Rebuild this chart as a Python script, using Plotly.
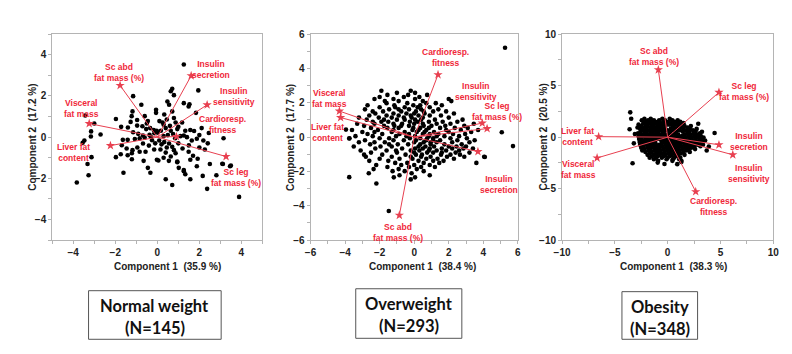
import plotly.graph_objects as go

# ---------------- data ----------------
VARS = ["Sc abd<br>fat mass (%)", "Insulin<br>secretion", "Insulin<br>sensitivity",
        "Cardioresp.<br>fitness", "Sc leg<br>fat mass (%)", "Visceral<br>fat mass",
        "Liver fat<br>content"]

# loadings (arrow tips) per group, same order as VARS
NW_LX = [-1.77, 1.61, 2.37, 0.91, 3.27, -3.24, -2.23]
NW_LY = [2.51, 2.98, 1.57, 0.03, -0.94, 0.66, -0.41]
OW_LX = [-0.86, 3.69, 3.94, 1.38, 4.22, -4.33, -4.26]
OW_LY = [-4.55, -0.84, 0.82, 3.64, 0.50, 1.52, 1.14]
OB_LX = [-0.88, 4.86, 6.17, 2.66, 4.86, -6.68, -6.53]
OB_LY = [6.54, -0.74, -1.71, -5.29, 4.35, -2.02, 0.05]

GROUPS = ["Normal weight", "Overweight", "Obesity"]
GROUP_N = [145, 293, 348]
PC1_PCT = [35.9, 38.4, 38.3]
PC2_PCT = [17.2, 17.7, 20.5]

# scores, Normal weight
NW_PTS = [
    (-1.15, 1.99), (-0.76, 1.57), (-0.06, 1.33), (-1.18, 1.25), (-1.22, 1.02), (-1.27, 0.74),
    (-0.96, 0.83), (-1.97, 0.88), (-1.72, 0.50), (-1.40, 0.47), (-0.96, 0.56), (-0.71, 0.53),
    (-0.50, 0.66), (-0.53, 0.39), (-0.34, 0.44), (-0.17, 0.35), (-0.03, 0.31), (-3.00, 0.66),
    (-3.43, 1.05), (-3.15, 0.28), (-2.70, 0.13), (-3.16, 0.03), (-3.47, -0.16), (-3.55, -0.27),
    (-1.64, -0.13), (-1.41, -0.13), (-1.07, -0.09), (-0.84, -0.06), (-0.60, -0.03), (-0.37, 0.11),
    (-0.14, 0.19), (-1.69, -0.39), (-1.46, -0.55), (-1.18, -0.63), (-0.95, -0.50), (-0.68, -0.31),
    (-0.40, -0.41), (-1.21, -0.78), (-0.84, -0.71), (-0.56, -0.71), (-1.97, -0.97), (-1.74, -0.83),
    (-1.41, -0.88), (-3.13, -0.97), (-3.32, -1.30), (-1.21, -1.07), (-0.45, -1.49), (-0.33, -1.73),
    (-1.61, -1.73), (-3.27, -1.85), (-3.83, -2.20), (-0.91, 0.16), (-0.68, 0.08), (-1.15, 0.24),
    (-0.60, 1.02), (-0.45, 0.78), (-0.06, 1.18), (-0.25, -0.15), (-0.10, -0.30), (-0.30, 0.00),
    (-0.15, -0.60), (-0.65, -1.15), (-0.02, -1.10), (0.05, -1.13),
    (1.26, 3.53), (1.95, 2.27), (0.79, 2.04), (0.71, 2.35), (0.64, 2.23), (1.53, 1.60),
    (1.49, 1.49), (1.26, 1.65), (1.84, 1.18), (2.11, 0.44), (3.15, -0.05), (3.46, -1.41),
    (3.12, -1.30), (2.81, -1.85), (2.37, -2.51), (3.89, -2.90), (2.16, -1.88), (1.57, -1.10),
    (1.92, -1.05), (2.26, -0.60), (2.19, -0.16), (1.88, -0.08), (1.64, -0.16), (1.41, 0.00),
    (1.57, 0.35), (1.33, 0.31), (1.26, 0.08), (1.18, 0.71), (0.87, 0.71), (0.71, 1.25),
    (0.48, 1.73), (0.56, 1.57), (0.33, 1.10), (0.45, 0.86), (0.25, 0.71), (0.10, 0.78),
    (0.79, 0.93), (0.95, 0.39), (0.64, 0.31), (0.40, 0.44), (0.17, 0.31), (0.02, 0.22),
    (0.09, -0.16), (0.33, -0.24), (0.56, -0.31), (0.71, -0.47), (0.79, -0.63), (0.87, -0.78),
    (0.64, -0.94), (0.95, -1.18), (1.02, -1.49), (1.26, -1.65), (1.33, -1.80), (1.49, -0.71),
    (1.70, -0.90), (0.40, -2.04), (0.71, -2.32), (1.88, -1.41), (1.57, -2.04), (3.09, -1.29),
    (3.50, -1.38), (0.95, -1.22), (1.26, -1.60), (0.30, 0.05), (0.50, 0.10), (0.75, 0.15),
    (0.20, -0.35), (0.45, -0.50), (1.00, -0.30), (1.10, 0.05), (0.60, 0.55), (0.30, 0.60),
    (1.00, 0.50), (0.85, -0.05), (0.15, -0.60), (0.40, -0.75), (1.20, -0.55), (0.55, -1.15),
    (0.30, -1.00), (1.50, -0.40), (1.75, 0.30), (2.00, 0.10), (2.40, -0.30), (2.50, -1.30),
    (2.00, -0.50), (2.45, 0.20),
]

# scores, Overweight: rows (y, [x...]), plus outliers
OW_ROWS = [
    (2.70, [-1.9, -0.2]), (2.58, [-1.0, 0.05]), (2.46, [-0.35, -1.55, 0.75]),
    (2.34, [-0.6, 0.3, -2.0]), (2.22, [-2.3, 0.05, 2.0, -1.2]), (2.10, [-0.9, 0.5, 2.15, -1.7]),
    (1.98, [-1.6, -0.4, 0.7, 1.25]), (1.86, [-2.7, -0.05, 1.6, -1.15, 0.35]),
    (1.74, [-2.0, -1.1, 0.2, 0.9, -0.55]), (1.62, [-2.85, -1.45, -0.3, 0.4, 1.4, -0.9]),
    (1.50, [-1.8, -0.75, 0.1, 1.1, 1.85, -2.4, 0.55]), (1.38, [-2.25, -1.2, -0.45, 0.6, 2.3, 0.0]),
    (1.26, [-2.6, -1.6, -0.9, 0.25, 0.9, 1.55, -0.2]), (1.14, [-3.2, -2.05, -1.3, -0.15, 0.5, 2.0, -0.6]),
    (1.02, [-2.75, -1.0, -0.55, 1.2, 2.8, 0.05, -1.75, 0.4]),
    (0.90, [-1.9, -1.5, 0.2, 0.85, 1.65, 2.5, -2.4, -0.25]),
    (0.78, [-3.3, -2.3, -0.7, 0.0, 1.3, 2.1, 3.45, -1.2, 0.5]),
    (0.66, [-2.9, -1.75, -1.15, -0.3, 0.55, 1.0, 2.9, 1.8, -0.75]),
    (0.54, [-2.5, -1.55, -0.9, 0.35, 1.5, 2.35, 3.1, -0.05, 0.85]),
    (0.42, [-3.6, -2.1, -0.1, 0.7, 1.85, 2.7, 3.7, -1.2, 0.25]),
    (0.30, [-3.0, -1.3, -0.55, 0.15, 1.15, 2.0, 3.3, -2.3, 0.6]),
    (0.18, [-2.7, -1.85, -0.85, 0.5, 1.4, 2.25, 2.95, 0.9, -0.3]),
    (0.06, [-3.4, -2.4, -1.05, 0.05, 0.85, 1.75, 2.6, -0.45, 1.3]),
    (-0.06, [-3.75, -2.0, -1.45, -0.25, 0.35, 1.1, 2.1, 3.05, 0.75]),
    (-0.18, [-2.85, -1.2, -0.6, 0.7, 1.5, 2.5, 3.5, 0.1, 1.1]),
    (-0.30, [-3.2, -2.3, -1.7, 0.0, 0.55, 1.3, 2.2, 3.2, 0.95]),
    (-0.42, [-2.55, -0.95, -0.35, 0.95, 1.75, 2.75, -1.45, 0.35]),
    (-0.54, [-3.5, -1.95, -1.3, 0.25, 1.15, 2.0, 2.45, 3.0, 0.65]),
    (-0.66, [-2.25, -0.7, 0.5, 0.9, 1.6, 2.2, 2.85, 3.4, 0.05]),
    (-0.78, [-3.1, -1.6, -0.2, 0.3, 1.3, 1.85, 2.6, -1.05, 0.85]),
    (-0.90, [-2.5, -1.0, 0.75, 1.1, 2.4, 3.2, 0.0, 1.6]),
    (-1.02, [-1.85, -0.5, 0.1, 1.55, 2.1, 2.65, -2.9, 0.45]),
    (-1.14, [-2.8, -1.3, 0.4, 0.95, 1.9, 2.9, 4.05, -0.2]),
    (-1.26, [-2.0, -0.85, -0.1, 0.7, 1.35, 2.3]),
    (-1.38, [-2.6, -1.5, 0.25, 1.1, 1.7]),
    (-1.50, [-1.1, -0.4, 0.55, 1.45, 3.6]),
    (-1.62, [-2.2, -0.75, 0.0, 0.9]),
    (-1.74, [-1.55, -0.3, 0.4, 1.2]),
    (-1.86, [-0.9, 0.15, -2.35]),
    (-1.98, [-1.25, -0.55, 0.55]),
    (-2.10, [-2.63, -0.15]),
    (-2.22, [-0.85, 0.9]),
    (-2.34, [-1.18, 0.05]),
    (-2.46, [-0.2]),
]
OW_OUT = [(5.26, 5.21), (5.72, -0.52), (5.07, 0.29), (-3.76, -2.33), (-2.19, -2.70),
          (-1.47, -4.30), (-3.95, 0.44), (-3.76, -0.08), (4.09, -1.16)]

# scores, Obesity: rows (y, [x...]), plus outliers
OB_ROWS = [
    (1.78, [-2.2, -1.6, -0.5, 0.2]),
    (1.64, [-2.45, -1.85, -1.3, -0.8, -0.25, 0.45, 0.95]),
    (1.50, [-2.05, -1.5, -0.95, -0.4, 0.1, 0.65, 1.2]),
    (1.36, [-2.3, -1.75, -1.2, -0.7, -0.1, 0.4, 0.9, 1.5]),
    (1.22, [-2.75, -2.1, -1.55, -1.0, -0.45, 0.15, 0.7, 1.25]),
    (1.08, [-2.5, -1.9, -1.35, -0.8, -0.2, 0.45, 1.0, 1.6, 2.2]),
    (0.94, [-2.85, -2.25, -1.65, -1.1, -0.55, 0.6, 1.3, 1.9]),
    (0.80, [-2.6, -2.0, -1.4, -0.85, -0.3, 0.3, 0.9, 1.5, 2.1, 2.75]),
    (0.66, [-2.3, -1.75, -1.15, -0.6, 0.0, 0.55, 1.15, 1.75, 2.4]),
    (0.52, [-2.55, -2.0, -1.45, -0.9, -0.35, 0.25, 0.85, 1.45, 2.05, 2.65, 3.25]),
    (0.38, [-2.8, -2.2, -1.65, -1.1, -0.5, 0.1, 0.7, 1.85, 2.45, 3.05]),
    (0.24, [-2.5, -1.9, -1.3, -0.75, -0.2, 0.4, 1.0, 1.6, 2.2, 2.8]),
    (0.10, [-2.75, -2.15, -1.6, -1.0, -0.45, 0.15, 0.75, 1.35, 1.95, 2.55, 3.15]),
    (-0.04, [-2.45, -1.85, -1.25, -0.7, -0.1, 0.5, 1.1, 1.7, 2.3, 2.9, 3.4]),
    (-0.18, [-2.7, -2.1, -1.5, -0.95, -0.35, 0.25, 0.85, 1.45, 2.05, 2.65, 3.25]),
    (-0.32, [-2.4, -1.8, -1.2, -0.6, 0.0, 0.6, 1.2, 1.8, 2.4, 3.0, 3.55]),
    (-0.46, [-2.65, -2.05, -1.45, -0.25, 0.35, 0.95, 1.55, 2.15, 2.75, 3.3]),
    (-0.60, [-2.35, -1.75, -1.15, -0.55, 0.05, 0.65, 1.25, 1.85, 2.45, 3.05]),
    (-0.74, [-2.6, -2.0, -1.4, -0.8, -0.2, 0.4, 1.0, 1.6, 2.2, 2.8, 3.35]),
    (-0.88, [-2.3, -1.7, -1.1, -0.5, 0.1, 0.7, 1.3, 1.9, 2.5, 3.1]),
    (-1.02, [-2.5, -1.9, -1.3, -0.75, -0.15, 0.45, 1.05, 1.65, 2.25]),
    (-1.16, [-2.2, -1.6, -1.0, -0.4, 0.2, 0.8, 1.4, 2.0, 2.6]),
    (-1.30, [-2.4, -1.8, -1.2, -0.65, -0.05, 0.55, 1.15, 1.75]),
    (-1.44, [-2.1, -1.5, -0.9, -0.3, 0.3, 0.9, 1.5, 2.1]),
    (-1.58, [-1.7, -1.1, -0.55, 0.05, 0.65, 1.25]),
    (-1.72, [-1.9, -1.3, -0.75, -0.2, 0.4, 1.0, 1.6]),
    (-1.86, [-1.5, -0.95, -0.4, 0.2, 0.8]),
    (-2.00, [-1.7, -1.1, -0.55, 0.0, 0.6, 1.2]),
    (-2.14, [-1.3, -0.1, 0.5, 1.1]),
    (-2.30, [-0.9, 0.45, 1.3]),
]
OB_OUT = [(-3.54, 2.41), (-3.45, 1.79), (-3.6, 0.77), (-3.32, -2.53), (4.45, 0.4),
          (0.91, -2.62), (1.3, -2.4), (-0.94, -2.47), (3.9, -0.9), (3.7, -1.3),
          (-3.1, 0.3), (-3.2, -0.6), (2.9, 1.3), (-0.3, -2.6)]

# ---------------- layout constants ----------------
W, H = 792, 354
RED_TXT = "#f0283a"
RED_LN = "#e84050"
FONT = "Liberation Sans, Arial, sans-serif"
BOXFONT = "Lato, Open Sans, sans-serif"


def px_x(p):
    return p / W


def px_y(p):
    return 1 - p / H


PANELS = [
    dict(xr=[-5, 5], yr=[-5, 5], xdt=2, ydt=2, xm=1, ym=1, dom=(45, 259)),
    dict(xr=[-6, 6], yr=[-6, 6], xdt=2, ydt=2, xm=1, ym=1, dom=(308, 519)),
    dict(xr=[-10, 10], yr=[-10, 10], xdt=5, ydt=5, xm=2.5, ym=2.5, dom=(564, 779)),
]
YDOM = [px_y(242), px_y(30)]

# label positions (data coords) per panel, same order as VARS
LABEL_POS = [
    [(-1.84, 3.12), (2.57, 3.29), (3.63, 1.96), (3.12, 0.60), (3.74, -1.96), (-3.63, 1.41), (-4.0, -0.74)],
    [(-0.96, -5.54), (4.92, -2.77), (3.59, 2.66), (4.80, 1.50), (1.79, 4.66), (-4.88, 2.26), (-5.03, 0.29)],
    [(-1.26, 7.84), (7.74, -0.45), (7.74, -3.5), (4.36, -6.76), (7.27, 4.47), (-8.41, -3.13), (-8.56, 0.11)],
]
# panel 2 order fix: Cardioresp. above, Sc leg at right
LABEL_POS[1][3], LABEL_POS[1][4] = LABEL_POS[1][4], LABEL_POS[1][3]


def rows_to_xy(rows, extra):
    xs, ys = [], []
    for y, xl in rows:
        for x in xl:
            xs.append(x)
            ys.append(y)
    for x, y in extra:
        xs.append(x)
        ys.append(y)
    return xs, ys


scores = [
    ([p[0] for p in NW_PTS], [p[1] for p in NW_PTS]),
    rows_to_xy(OW_ROWS, OW_OUT),
    rows_to_xy(OB_ROWS, OB_OUT),
]
loads = [(NW_LX, NW_LY), (OW_LX, OW_LY), (OB_LX, OB_LY)]

fig = go.Figure()
annotations = []
shapes = []

for i, pan in enumerate(PANELS):
    ax = "" if i == 0 else str(i + 1)
    xref, yref = "x" + ax, "y" + ax
    sx, sy = scores[i]
    fig.add_trace(go.Scatter(x=sx, y=sy, mode="markers", xaxis=xref, yaxis=yref,
                             marker=dict(color="black", size=4.6, line=dict(width=0)),
                             showlegend=False, hoverinfo="skip"))
    lx, ly = loads[i]
    linx, liny = [], []
    for a, b in zip(lx, ly):
        linx += [0, a, None]
        liny += [0, b, None]
    fig.add_trace(go.Scatter(x=linx, y=liny, mode="lines", xaxis=xref, yaxis=yref,
                             line=dict(color=RED_LN, width=1), showlegend=False, hoverinfo="skip"))
    fig.add_trace(go.Scatter(x=lx, y=ly, mode="markers", xaxis=xref, yaxis=yref,
                             marker=dict(symbol="star", color=RED_LN, size=7, line=dict(width=0)),
                             showlegend=False, hoverinfo="skip"))
    for name, (tx, ty) in zip(VARS, LABEL_POS[i]):
        annotations.append(dict(x=tx, y=ty, xref=xref, yref=yref, text="<b>%s</b>" % name,
                                showarrow=False, xanchor="center", yanchor="middle",
                                font=dict(family=FONT, size=8.5, color=RED_TXT),
                                align="center"))
    common = dict(showline=True, mirror=True, linecolor="#b4b4b4", linewidth=1,
                  ticks="outside", ticklen=3, tickcolor="#b4b4b4", showgrid=False,
                  zeroline=False, tickfont=dict(family=FONT, size=10, color="#222", weight="bold"))
    fig.layout["xaxis" + ax] = dict(common, range=pan["xr"], dtick=pan["xdt"], tick0=0,
                                    domain=[px_x(pan["dom"][0]), px_x(pan["dom"][1])],
                                    anchor="y" + ax,
                                    minor=dict(ticks="outside", dtick=pan["xm"], tick0=0,
                                               ticklen=3, tickcolor="#b4b4b4"))
    fig.layout["yaxis" + ax] = dict(common, range=pan["yr"], dtick=pan["ydt"], tick0=0,
                                    domain=YDOM, anchor="x" + ax,
                                    minor=dict(ticks="outside", dtick=pan["ym"], tick0=0,
                                               ticklen=3, tickcolor="#b4b4b4"))

# axis titles
YT_X = [25, 287, 545]
XT_X = [162, 422, 677]
for i in range(3):
    annotations.append(dict(x=px_x(YT_X[i]), y=px_y(136), xref="paper", yref="paper",
                            text="<b>Component 2\u00a0\u00a0(%.1f %%)</b>" % PC2_PCT[i],
                            textangle=-90, showarrow=False, xanchor="center", yanchor="middle",
                            font=dict(family=FONT, size=10, color="#222")))
    annotations.append(dict(x=px_x(XT_X[i]), y=px_y(269), xref="paper", yref="paper",
                            text="<b>Component 1\u00a0\u00a0(%.1f %%)</b>" % PC1_PCT[i],
                            showarrow=False, xanchor="center", yanchor="middle",
                            font=dict(family=FONT, size=10, color="#222")))

# group boxes
BOX = [(82, 217, 294, 344), (354, 462, 292, 343), (625, 702, 295, 344)]
for i, (x0, x1, y0, y1) in enumerate(BOX):
    shapes.append(dict(type="rect", xref="paper", yref="paper",
                       x0=px_x(x0), x1=px_x(x1), y0=px_y(y1), y1=px_y(y0),
                       line=dict(color="#555", width=1), fillcolor="white", layer="below"))
    cx = px_x((x0 + x1) / 2)
    annotations.append(dict(x=cx, y=px_y(y0 + 16), xref="paper", yref="paper",
                            text="<b>%s</b>" % GROUPS[i], showarrow=False,
                            xanchor="center", yanchor="middle",
                            font=dict(family=BOXFONT, size=16.5, color="#111")))
    annotations.append(dict(x=cx, y=px_y(y0 + 38), xref="paper", yref="paper",
                            text="<b>(N=%d)</b>" % GROUP_N[i], showarrow=False,
                            xanchor="center", yanchor="middle",
                            font=dict(family=BOXFONT, size=16.5, color="#111")))

fig.update_layout(width=W, height=H, margin=dict(l=0, r=0, t=0, b=0),
                  paper_bgcolor="white", plot_bgcolor="white",
                  annotations=annotations, shapes=shapes, showlegend=False)

fig.write_html("out.html")
